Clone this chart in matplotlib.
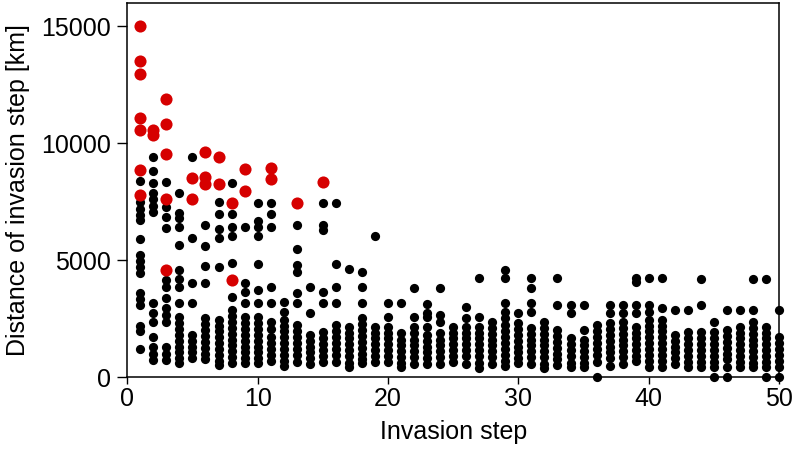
import matplotlib
matplotlib.use("Agg")
import matplotlib.pyplot as plt

# Distances [km] of every invasion step, one list per step (step 1 .. 50)
black_dist = [
    [8380, 7500, 7200, 6950, 6700, 5900, 5200, 4950, 4700, 4450, 3600, 3350, 3100, 2200, 1950, 1200],
    [9400, 8800, 8290, 7860, 7600, 7300, 7050, 3160, 2740, 2350, 1710, 1280, 1000, 730],
    [8340, 7270, 6840, 6370, 4150, 3850, 3380, 2950, 2650, 2350, 1280, 1000, 730],
    [7860, 7010, 6800, 6410, 5640, 4570, 4200, 3850, 3160, 2560, 2300, 2050, 1800, 1550, 1300, 1050, 800, 600],
    [9400, 5940, 4020, 3160, 1800, 1550, 1300, 1050, 800],
    [6500, 5600, 4740, 4020, 2520, 2250, 2000, 1750, 1500, 1250, 1000, 750],
    [7480, 6970, 6330, 5940, 4700, 2440, 2200, 1950, 1700, 1450, 1200, 950, 700, 500],
    [8290, 6970, 6410, 6030, 4870, 3420, 2860, 2600, 2350, 2100, 1850, 1600, 1350, 1100, 850, 600],
    [6410, 4020, 3630, 3160, 2560, 2300, 2050, 1800, 1550, 1300, 1050, 800, 600],
    [7440, 6670, 6410, 6030, 4830, 3720, 3160, 2560, 2300, 2050, 1800, 1550, 1300, 1050, 800, 600],
    [7440, 6970, 6410, 3850, 3160, 2350, 2050, 1700, 1450, 1200, 950, 700],
    [3200, 2780, 2440, 2200, 1950, 1700, 1450, 1200, 950, 700, 450],
    [6500, 5470, 4790, 4490, 3590, 3160, 2220, 1950, 1700, 1450, 1200, 950, 650],
    [3850, 2740, 1800, 1550, 1300, 1050, 800, 550],
    [7440, 6500, 6280, 3630, 3160, 1920, 1650, 1400, 1150, 900, 650],
    [7440, 4830, 3850, 3160, 2220, 1950, 1700, 1450, 1200, 950, 650],
    [4620, 2140, 1900, 1650, 1400, 1150, 900, 600, 430],
    [4490, 3850, 3160, 2520, 2250, 2000, 1750, 1500, 1250, 1000, 750, 600],
    [6030, 2140, 1900, 1650, 1400, 1150, 900, 650],
    [3160, 2560, 2140, 1900, 1650, 1400, 1150, 900, 650],
    [3160, 1880, 1600, 1350, 1100, 850, 600, 430],
    [3800, 2560, 2140, 1880, 1600, 1350, 1100, 850, 550],
    [3120, 2740, 2560, 2140, 1800, 1550, 1300, 1050, 800, 550],
    [3800, 2650, 2350, 1880, 1600, 1350, 1100, 850, 550],
    [2140, 1900, 1650, 1400, 1150, 900, 650],
    [2990, 2520, 2140, 1900, 1650, 1400, 1150, 900, 550],
    [4230, 2560, 2140, 1900, 1650, 1400, 1150, 900, 600, 400],
    [2350, 2100, 1850, 1600, 1350, 1100, 850, 550],
    [4570, 4230, 3160, 2780, 2520, 2220, 1950, 1700, 1450, 1200, 950, 700, 450],
    [2740, 2300, 2050, 1800, 1550, 1300, 1050, 800, 600],
    [4230, 3800, 3160, 2780, 2100, 1850, 1600, 1350, 1100, 850, 550],
    [2350, 2100, 1850, 1600, 1350, 1100, 850, 550, 400],
    [4230, 3080, 2000, 1750, 1500, 1250, 1000, 750, 500],
    [3080, 2740, 1650, 1400, 1150, 900, 600, 430],
    [3080, 2010, 1600, 1350, 1100, 850, 600, 430],
    [2220, 1950, 1700, 1450, 1200, 950, 650, 0],
    [3080, 2740, 2300, 2050, 1800, 1550, 1300, 1050, 800, 450],
    [3080, 2740, 2350, 2100, 1850, 1600, 1350, 1100, 850, 550],
    [4230, 4060, 3080, 2740, 2140, 1900, 1650, 1400, 1150, 900, 700],
    [4230, 3080, 2780, 2440, 2200, 1950, 1700, 1450, 1200, 950, 700, 430],
    [4230, 2950, 2440, 2200, 1950, 1700, 1450, 1200, 950, 700, 430],
    [2860, 1800, 1550, 1300, 1050, 800, 550],
    [2860, 1920, 1650, 1400, 1150, 900, 650, 430],
    [4190, 3080, 1920, 1650, 1400, 1150, 900, 650, 430],
    [2350, 1920, 1650, 1400, 1150, 900, 650, 430, 0],
    [2860, 2010, 1750, 1500, 1250, 1000, 750, 430, 0],
    [2860, 2140, 1900, 1650, 1400, 1150, 900, 650, 430],
    [4190, 2860, 2350, 2100, 1850, 1600, 1350, 1100, 850, 600, 430],
    [4190, 2140, 1900, 1650, 1400, 1150, 900, 650, 430, 0],
    [2860, 1710, 1450, 1200, 950, 700, 430, 0],
]

# Highlighted (red) steps
red_steps = [1, 1, 1, 1, 1, 1, 1, 2, 2, 3, 3, 3, 3, 3, 5, 5, 6, 6, 6, 7, 7, 8, 8, 9, 9, 11, 11, 13, 15]
red_dist = [15000, 13500, 12950, 11070, 10560, 8850, 7780, 10560, 10350,
            11880, 10810, 9530, 7600, 4570, 8500, 7600, 9620, 8550, 8250,
            9400, 8250, 7440, 4150, 8890, 7950, 8930, 8460, 7440, 8330]

x_ticks = [0, 10, 20, 30, 40, 50]
y_ticks = [0, 5000, 10000, 15000]

plt.rcParams["font.family"] = ["Liberation Sans", "DejaVu Sans"]
plt.rcParams["font.size"] = 18

fig = plt.figure(figsize=(7.93, 4.55), dpi=100)
ax = fig.add_axes([0.1605, 0.1714, 0.822, 0.822])

bx = []
by = []
for i, dists in enumerate(black_dist):
    bx.extend([i + 1] * len(dists))
    by.extend(dists)

ax.scatter(bx, by, s=44, color="black", linewidths=0, zorder=2, clip_on=False)
ax.scatter(red_steps, red_dist, s=76, color="#d60000", linewidths=0, zorder=3, clip_on=False)

ax.set_xlim(0, 50)
ax.set_ylim(0, 16000)
ax.set_xticks(x_ticks)
ax.set_yticks(y_ticks)
ax.set_xlabel("Invasion step", labelpad=7)
ax.set_ylabel("Distance of invasion step [km]", labelpad=8)

for sp in ax.spines.values():
    sp.set_linewidth(1.1)
ax.tick_params(axis="y", direction="out", length=7, width=1.0, labelsize=18, pad=5)
ax.tick_params(axis="x", direction="out", length=5, width=1.0, labelsize=18, pad=2)

fig.savefig("out.png", dpi=100)
